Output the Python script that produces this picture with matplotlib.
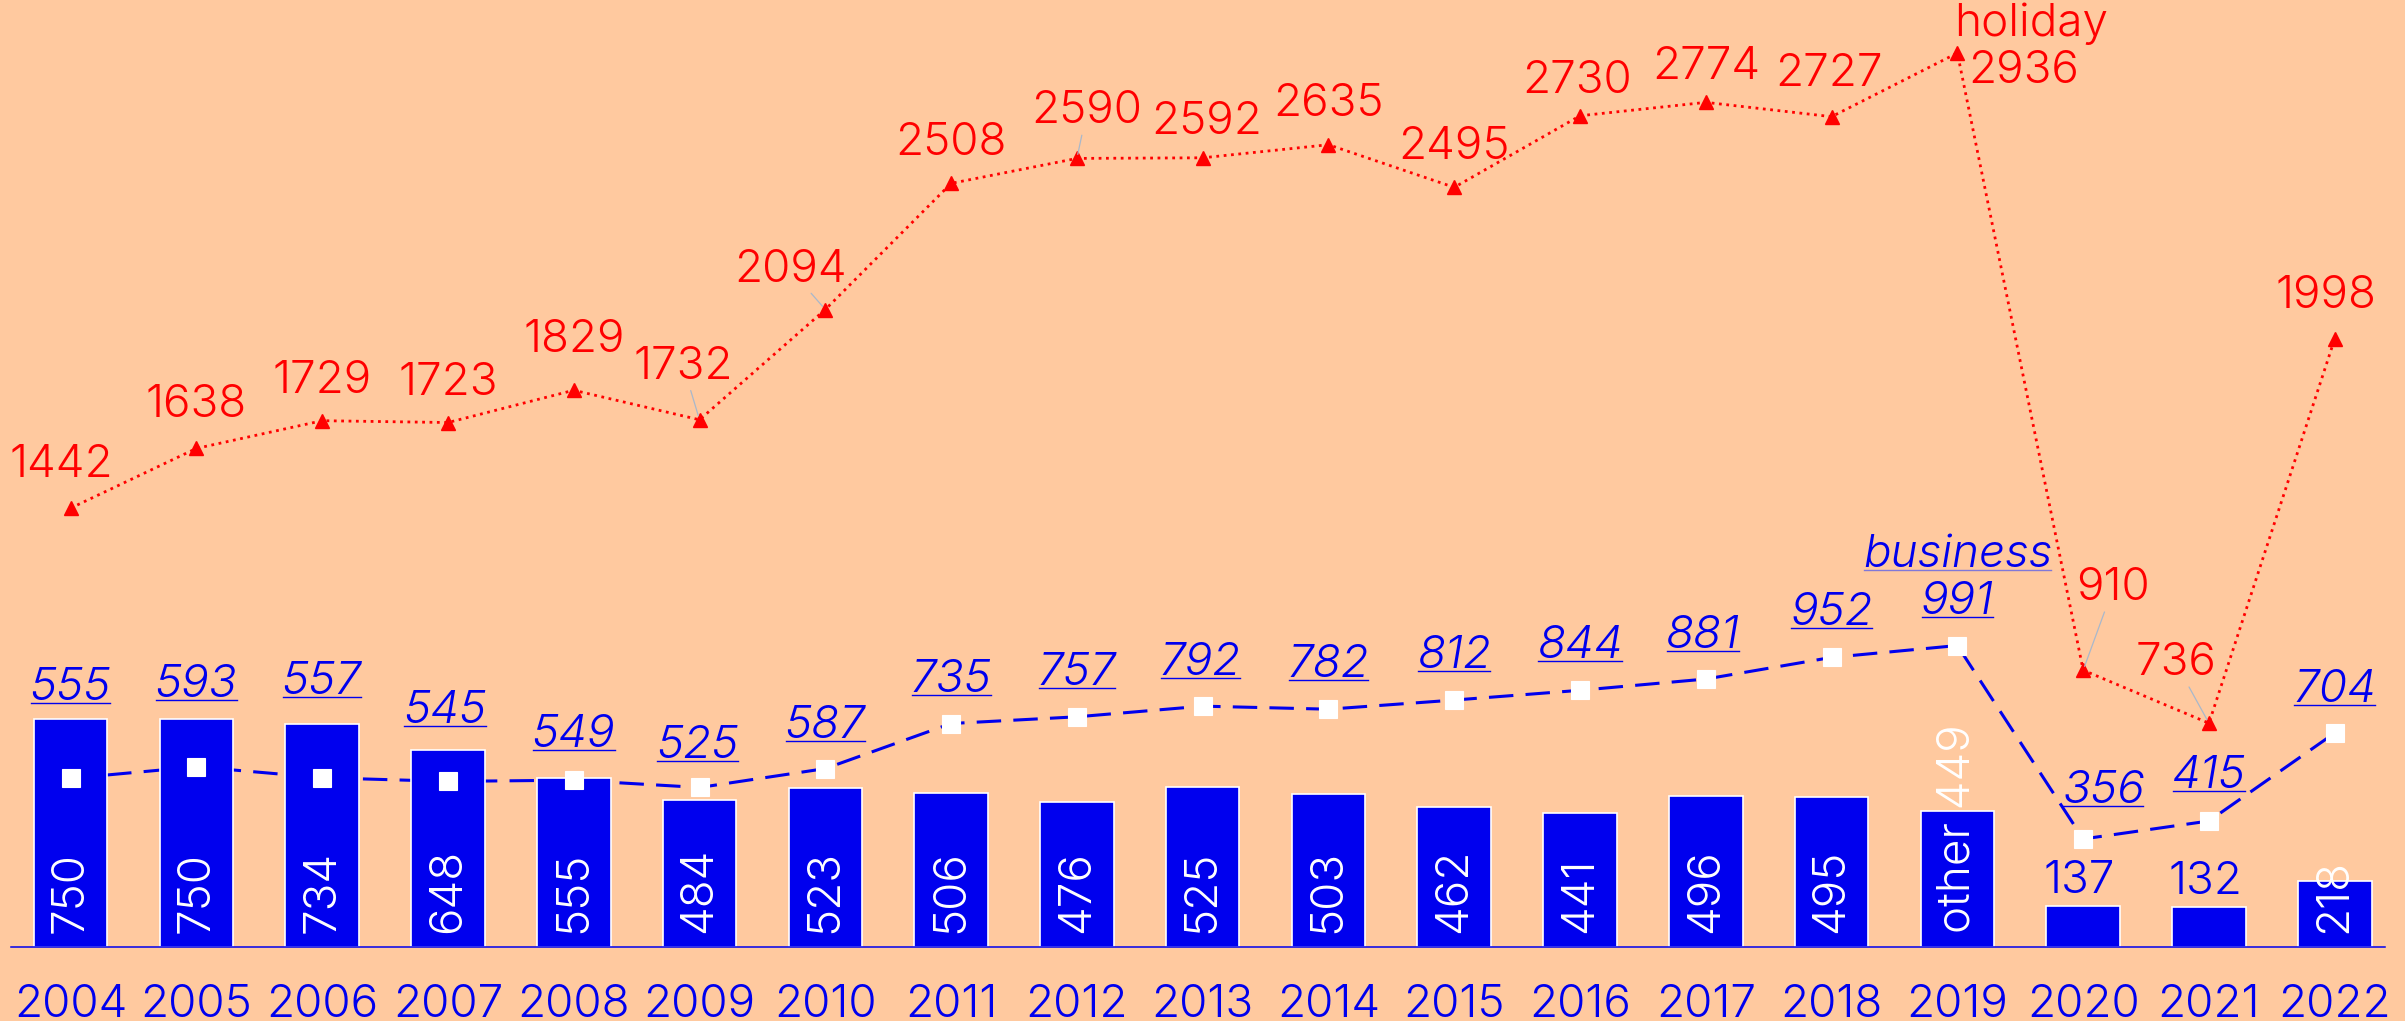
import numpy as np
import matplotlib
matplotlib.use('Agg')
import matplotlib.pyplot as plt
from matplotlib.lines import Line2D

# ---- data ----
years = ['2004', '2005', '2006', '2007', '2008', '2009', '2010', '2011', '2012', '2013',
         '2014', '2015', '2016', '2017', '2018', '2019', '2020', '2021', '2022']
holiday = [1442, 1638, 1729, 1723, 1829, 1732, 2094, 2508, 2590, 2592,
           2635, 2495, 2730, 2774, 2727, 2936, 910, 736, 1998]
business = [555, 593, 557, 545, 549, 525, 587, 735, 757, 792,
            782, 812, 844, 881, 952, 991, 356, 415, 704]
other = [750, 750, 734, 648, 555, 484, 523, 506, 476, 525,
         503, 462, 441, 496, 495, 449, 137, 132, 218]

series_names = {'holiday': 'holiday', 'business': 'business', 'other': 'other'}
name_index = 15  # year where series names are written

# ---- label layout (pixel offsets) ----
hol_off = [(-9, 43), (0, 43), (0, 40), (0, 40), (0, 50), (-16, 53), (-35, 40), (0, 40),
           (10, 47), (4, 36), (0, 41), (0, 40), (-3, 35), (0, 35), (-3, 43), (66, -18),
           (30, 82), (-33, 60), (-9, 43)]
hol_leader = [False, False, False, False, False, True, True, False, True, False,
              False, False, False, False, False, False, True, True, False]
bus_off = [(0, 90), (0, 82), (0, 96), (-3, 70), (0, 45), (-2, 41), (0, 43), (0, 44),
           (0, 44), (-2, 43), (0, 44), (0, 44), (0, 44), (-3, 43), (0, 44), (0, 44),
           (20, 48), (0, 45), (0, 43)]

BG = '#FFC99F'
BLUE = '#0000EE'
RED = '#FF0000'
LEADER = '#A8B8CC'
FS = 33
FW = 300

plt.rcParams['font.family'] = ['Inter', 'DejaVu Sans']

fig = plt.figure(figsize=(24.05, 10.21), dpi=100, facecolor=BG)
ax = fig.add_axes([7 / 1568, 48 / 666, (1555 - 7) / 1568, 618 / 666])
ax.set_facecolor(BG)

x = np.arange(len(years))

ax.plot(x, business, color=BLUE, lw=2.2, dashes=(8, 4), zorder=1)
ax.bar(x, other, width=0.585, color=BLUE, edgecolor='white', linewidth=1.2, zorder=2)
ax.plot(x, business, ls='none', marker='s', ms=13, mfc='white', mec='white', mew=0.8, zorder=3)
ax.plot(x, holiday, color=RED, ls=':', lw=2.0, marker='^', ms=10, mfc=RED, mec=RED, zorder=3)

ax.set_xlim(-0.476, 18.40)
ax.set_ylim(0, 3110)

for s in ['top', 'right', 'left']:
    ax.spines[s].set_visible(False)
ax.spines['bottom'].set_color(BLUE)
ax.spines['bottom'].set_linewidth(1.1)
ax.set_yticks([])
ax.set_xticks(x, years)
ax.tick_params(axis='x', length=0, pad=26, labelsize=FS, labelcolor=BLUE)
for lbl in ax.get_xticklabels():
    lbl.set_fontweight(FW)

# holiday labels
for i, v in enumerate(holiday):
    kw = {}
    if hol_leader[i]:
        kw['arrowprops'] = dict(arrowstyle='-', color=LEADER, lw=0.9, shrinkA=0, shrinkB=3)
    ax.annotate(f'{v}', (x[i], v), xytext=hol_off[i], textcoords='offset pixels',
                ha='center', va='center', color=RED, fontsize=FS, fontweight=FW, zorder=4, **kw)
ax.annotate(series_names['holiday'], (x[name_index], holiday[name_index]),
            xytext=(hol_off[name_index][0] + 8, hol_off[name_index][1] + 47),
            textcoords='offset pixels', ha='center', va='center', color=RED,
            fontsize=FS, fontweight=FW, zorder=4)

# business labels
bus_texts = []
for i, v in enumerate(business):
    t = ax.annotate(f'{v}', (x[i], v), xytext=bus_off[i], textcoords='offset pixels',
                    ha='center', va='center', color=BLUE, fontsize=FS, fontweight=FW,
                    style='italic', zorder=4)
    bus_texts.append((t, BLUE))
t = ax.annotate(series_names['business'], (x[name_index], business[name_index]),
                xytext=(bus_off[name_index][0], bus_off[name_index][1] + 47),
                textcoords='offset pixels', ha='center', va='center', color=BLUE,
                fontsize=FS, fontweight=FW, style='italic', zorder=4)
bus_texts.append((t, '#8078D8'))

# other labels
for i, v in enumerate(other):
    txt = f'{v}' if i != name_index else f"{series_names['other']} {v}"
    if v >= 150:
        ax.annotate(txt, (x[i], 0), xytext=(0, 14), textcoords='offset pixels', rotation=90,
                    ha='center', va='bottom', color='white', fontsize=FS, fontweight=FW, zorder=4)
    else:
        ax.annotate(txt, (x[i], v), xytext=(-4, 25), textcoords='offset pixels',
                    ha='center', va='center', color=BLUE, fontsize=FS, fontweight=FW, zorder=4)

# underlines for business labels
fig.canvas.draw()
renderer = fig.canvas.get_renderer()
inv = fig.transFigure.inverted()
for t, col in bus_texts:
    bb = t.get_window_extent(renderer)
    _, _, d = renderer.get_text_width_height_descent('lp', t.get_fontproperties(), ismath=False)
    y = bb.y0 + d - 3
    (fx0, fy), (fx1, _) = inv.transform([(bb.x0 + 1, y), (bb.x1 - 1, y)])
    fig.add_artist(Line2D([fx0, fx1], [fy, fy], color=col, lw=1.0, transform=fig.transFigure))

fig.savefig('out.png', dpi=100, facecolor=BG)
